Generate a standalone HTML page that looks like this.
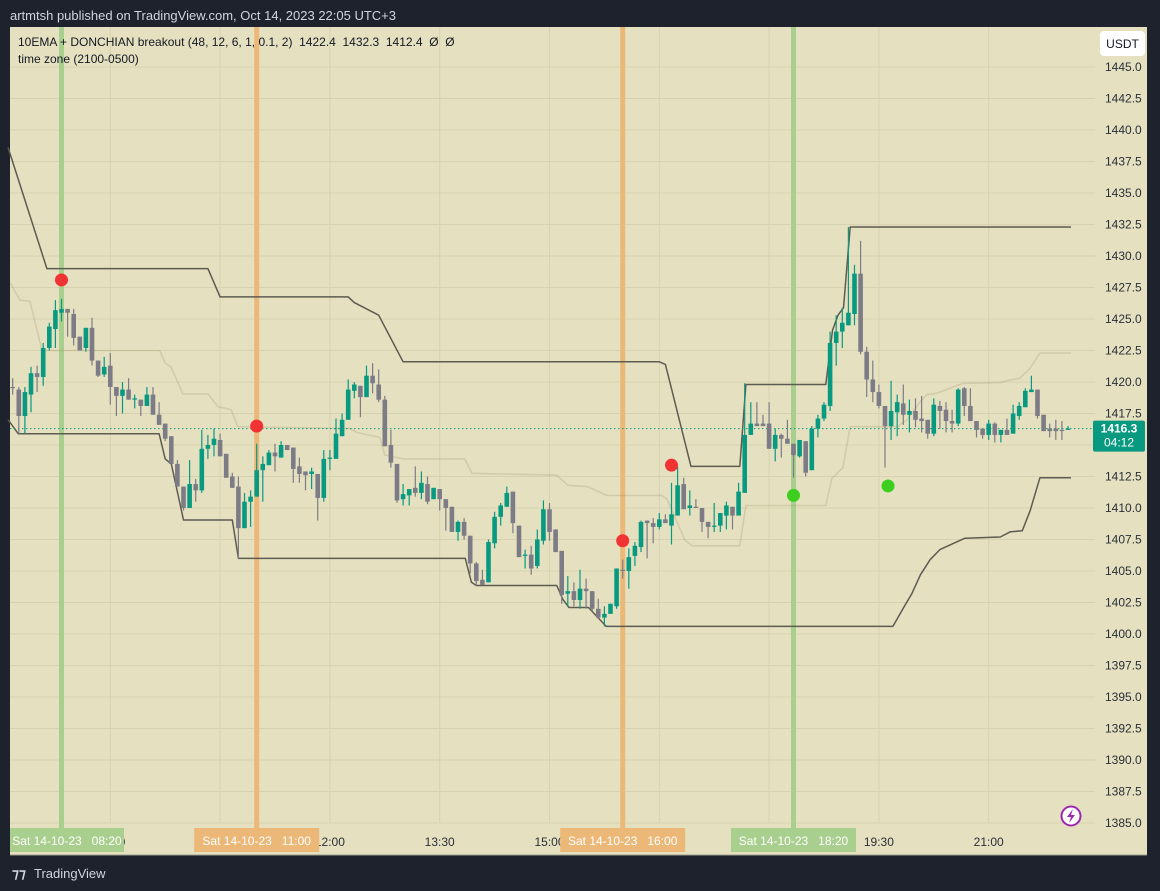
<!DOCTYPE html>
<html><head><meta charset="utf-8"><style>
html,body{margin:0;padding:0;background:#1e222d;width:1160px;height:891px;overflow:hidden;font-family:"Liberation Sans",sans-serif}
svg{display:block}
text{white-space:pre}
</style></head><body>
<svg id="chart" width="1160" height="891" viewBox="0 0 1160 891" xmlns="http://www.w3.org/2000/svg">
<rect x="0" y="0" width="1160" height="891" fill="#1e222d"/>
<text x="10" y="20" fill="#d1d4dc" font-size="13">artmtsh published on TradingView.com, Oct 14, 2023 22:05 UTC+3</text>
<rect x="10" y="27" width="1137" height="828" fill="#e5e1c0"/>
<line x1="10" y1="855" x2="1147" y2="855" stroke="#9a9a8a" stroke-width="1"/>
<g id="grid"></g>
<g id="bands"></g>
<g id="lines"></g>
<g id="candles"></g>
<g id="dots"></g>
<g id="yaxis"></g>
<g id="xaxis"></g>
<text x="18" y="46" fill="#131722" font-size="12" xml:space="preserve">10EMA + DONCHIAN breakout (48, 12, 6, 1, 0.1, 2)  1422.4  1432.3  1412.4  Ø  Ø</text>
<text x="18" y="63" fill="#131722" font-size="12">time zone (2100-0500)</text>
<rect x="1100" y="31" width="45" height="25" rx="4" fill="#ffffff"/>
<text x="1122.5" y="48" fill="#131722" font-size="12" text-anchor="middle">USDT</text>
<g><circle cx="1071" cy="816" r="9.5" fill="#fff" stroke="#9c27b0" stroke-width="2"/><path d="M1073 809 L1067 817 L1071 817 L1069 823 L1075 815 L1071 815 Z" fill="#9c27b0"/></g>
<g><text x="12" y="878" fill="#d1d4dc" font-size="14" font-weight="bold">⁊⁊</text><text x="34" y="878" fill="#d1d4dc" font-size="13">TradingView</text></g>
</svg>
<script>
const opens=[1419.6,1419.4,1417.3,1419.0,1420.7,1420.4,1422.7,1424.2,1425.5,1425.8,1425.4,1423.6,1422.7,1424.3,1421.7,1420.6,1421.3,1419.6,1418.9,1419.4,1418.6,1418.6,1418.1,1419.0,1417.4,1416.7,1415.7,1413.5,1411.7,1410.0,1411.9,1411.4,1414.7,1415.0,1415.4,1414.3,1412.5,1411.7,1408.4,1410.5,1410.9,1413.0,1413.4,1414.4,1414.0,1415.0,1414.8,1413.3,1412.9,1412.7,1412.7,1410.8,1413.9,1413.9,1415.7,1417.0,1419.3,1419.7,1418.8,1420.5,1419.8,1418.6,1415.0,1413.5,1410.7,1411.0,1411.6,1411.2,1411.9,1410.7,1411.5,1410.7,1410.1,1408.1,1408.9,1407.8,1405.6,1404.3,1404.1,1407.2,1409.3,1410.1,1411.3,1408.6,1406.2,1406.3,1405.4,1407.4,1409.9,1408.3,1406.6,1403.2,1403.4,1402.7,1403.6,1403.4,1402.0,1401.3,1401.6,1402.2,1405.1,1405.0,1406.2,1406.9,1409.0,1408.8,1408.5,1409.1,1408.6,1409.4,1411.9,1410.0,1410.1,1410.0,1408.9,1408.5,1408.6,1409.4,1410.1,1409.4,1411.2,1415.8,1416.7,1416.7,1416.7,1414.7,1415.8,1415.5,1415.1,1414.1,1415.3,1413.0,1416.3,1417.1,1418.1,1423.1,1424.0,1424.5,1425.4,1428.6,1422.4,1420.2,1419.2,1418.1,1416.5,1417.6,1418.3,1417.4,1417.7,1417.1,1417.0,1415.9,1418.1,1417.8,1416.9,1416.7,1419.5,1418.1,1416.9,1416.3,1415.8,1416.7,1415.8,1416.2,1415.9,1417.3,1418.0,1419.2,1419.4,1417.4,1416.3,1416.3,1416.2,1416.2];
const highs=[1420.3,1419.6,1419.6,1421.2,1421.3,1423.1,1424.7,1426.5,1426.6,1425.8,1425.8,1423.6,1424.3,1425.1,1421.7,1422.0,1422.3,1419.6,1420.0,1420.3,1419.0,1418.6,1419.6,1419.6,1418.4,1416.7,1415.7,1413.8,1411.7,1413.8,1412.3,1416.2,1415.8,1416.3,1415.9,1414.3,1412.8,1412.5,1411.2,1411.4,1415.1,1414.1,1414.6,1415.1,1415.3,1415.0,1414.8,1414.0,1412.9,1413.2,1412.7,1414.6,1414.6,1417.1,1417.5,1420.2,1420.0,1419.7,1421.3,1421.5,1421.0,1418.9,1416.2,1413.5,1411.9,1411.5,1413.3,1412.9,1412.5,1411.6,1411.5,1410.7,1410.1,1409.0,1409.2,1407.8,1405.7,1405.1,1407.5,1409.7,1410.4,1411.7,1411.3,1408.6,1406.7,1407.0,1408.3,1410.6,1410.4,1408.3,1406.6,1404.6,1404.1,1405.1,1404.4,1403.4,1402.8,1402.2,1402.4,1405.2,1405.9,1406.8,1407.3,1409.0,1409.0,1409.2,1409.6,1409.5,1412.0,1413.3,1412.4,1411.4,1410.7,1410.0,1408.9,1410.4,1409.6,1410.5,1410.1,1412.0,1419.9,1418.4,1418.4,1417.4,1418.4,1416.3,1415.9,1417.0,1415.1,1415.4,1415.3,1416.5,1417.4,1418.4,1424.0,1425.3,1425.9,1432.3,1429.3,1431.2,1422.8,1421.7,1419.8,1418.1,1420.1,1419.0,1419.8,1418.6,1418.7,1418.9,1417.0,1418.7,1418.5,1418.4,1417.8,1419.5,1419.6,1419.5,1416.9,1416.3,1417.0,1416.8,1416.2,1417.1,1418.2,1418.4,1419.5,1420.5,1419.4,1417.4,1416.7,1417.0,1416.9,1416.5];
const lows=[1419.0,1415.9,1415.9,1417.6,1419.2,1419.7,1422.5,1422.7,1424.8,1423.6,1422.9,1422.5,1422.4,1421.3,1420.4,1420.4,1418.2,1417.3,1417.5,1418.6,1417.9,1417.3,1418.1,1417.4,1416.6,1415.3,1413.5,1411.7,1409.8,1410.0,1410.5,1411.2,1413.9,1414.1,1414.1,1412.4,1411.6,1406.0,1408.4,1408.5,1410.9,1410.5,1413.4,1412.9,1414.0,1414.6,1412.0,1412.0,1411.4,1411.5,1409.0,1410.5,1413.0,1413.9,1415.7,1417.0,1418.7,1417.2,1418.8,1419.1,1418.4,1414.9,1413.2,1410.4,1410.2,1410.2,1410.9,1410.7,1410.3,1410.7,1409.8,1408.2,1408.1,1407.4,1407.5,1404.8,1403.8,1403.9,1404.1,1406.8,1408.6,1410.1,1408.0,1406.1,1405.2,1404.7,1405.2,1407.1,1407.4,1406.5,1402.4,1402.2,1402.2,1402.0,1402.0,1401.8,1401.2,1400.6,1401.6,1402.0,1404.4,1403.6,1405.4,1406.5,1406.0,1407.2,1408.3,1408.8,1407.1,1409.4,1409.9,1409.4,1410.0,1408.1,1407.6,1408.1,1408.1,1408.3,1408.3,1409.4,1411.2,1415.8,1416.5,1416.5,1414.7,1413.7,1414.0,1415.1,1412.4,1414.0,1412.5,1413.0,1415.6,1416.9,1417.7,1421.3,1422.7,1424.5,1424.5,1422.2,1418.8,1418.4,1417.9,1413.2,1415.4,1415.7,1416.6,1416.0,1416.4,1416.0,1415.5,1415.7,1416.3,1416.0,1416.0,1416.5,1417.3,1416.9,1415.6,1415.5,1415.4,1415.2,1415.2,1415.8,1415.9,1417.0,1418.0,1419.2,1417.1,1416.1,1415.6,1415.4,1415.4,1416.2];
const closes=[1419.6,1417.3,1419.2,1420.7,1420.4,1422.7,1424.4,1425.7,1425.8,1425.5,1423.5,1422.5,1424.3,1421.7,1420.5,1421.2,1419.6,1418.9,1419.4,1418.6,1418.7,1418.1,1419.0,1417.4,1416.6,1415.5,1413.5,1411.7,1410.0,1411.9,1411.4,1414.7,1415.0,1415.5,1414.1,1412.4,1411.6,1408.4,1410.5,1410.9,1413.0,1413.5,1414.4,1414.1,1415.0,1414.6,1413.1,1412.7,1412.6,1412.9,1410.8,1413.9,1414.0,1415.9,1417.0,1419.4,1419.8,1418.8,1420.5,1419.9,1418.6,1414.9,1413.6,1410.6,1411.1,1411.5,1411.2,1412.0,1410.5,1411.6,1410.7,1410.0,1408.1,1408.9,1407.8,1405.6,1404.2,1403.9,1407.3,1409.3,1410.2,1411.2,1408.8,1406.1,1406.3,1405.2,1407.5,1409.9,1408.1,1406.5,1403.1,1403.4,1402.7,1403.6,1403.4,1402.0,1401.3,1401.6,1402.4,1405.2,1405.0,1406.1,1407.0,1408.9,1408.8,1408.5,1409.1,1408.8,1409.5,1411.8,1409.9,1410.2,1410.0,1408.9,1408.5,1408.6,1409.6,1410.2,1409.4,1411.3,1415.8,1416.7,1416.5,1416.5,1414.7,1415.8,1415.5,1415.1,1414.2,1415.4,1412.8,1416.3,1417.1,1418.2,1423.1,1424.0,1424.7,1425.5,1428.6,1422.4,1420.2,1419.2,1418.1,1416.5,1417.7,1418.4,1417.4,1417.7,1417.0,1416.9,1415.9,1418.2,1417.7,1416.9,1416.7,1419.4,1418.1,1416.9,1416.2,1415.8,1416.7,1415.8,1416.2,1415.8,1417.5,1418.1,1419.3,1419.4,1417.3,1416.1,1416.1,1416.1,1416.2,1416.3];
const upperIdx=[-0.75,5.6,32,34,55,56,60,64,106,107,111.2,119.2,120.2,133.3,134.4,135.3,136.2,137.3,173.5];
const upperVal=[1438.6,1429.0,1429.0,1426.75,1426.75,1426.3,1425.3,1421.6,1421.6,1421.4,1413.3,1413.3,1419.8,1419.8,1424.1,1425.3,1425.9,1432.3,1432.3];
const lowerIdx=[-0.75,0.9,24,25,26,28,36,37,74.2,75.2,76,89.2,90.2,91.2,94.4,97.3,144.3,146.3,147.4,148.8,150.4,152,156.1,161.9,163.5,165.5,166.8,168.4,173.5];
const lowerVal=[1417.0,1415.9,1415.9,1413.9,1413.5,1409.05,1409.05,1406.0,1406.0,1404.1,1403.85,1403.85,1402.75,1402.1,1402.1,1400.6,1400.6,1402.3,1403.2,1404.7,1405.9,1406.7,1407.6,1407.7,1408.1,1408.2,1409.8,1412.4,1412.4];
const midIdx=[-0.44,1.2,2.84,4.8,24.1,25,25.95,27.9,32,33.65,35.8,36.9,55.3,56.4,60.2,61,64,74.1,75.3,89.2,91,94.2,97.4,106.4,107.3,110.2,111.4,119.2,120.2,133.3,134.3,136.1,137.3,145,146.6,148.7,149.9,151.5,155.8,161.9,163,165.1,166.8,168.4,173.5];
const midVal=[1427.9,1426.5,1426.4,1422.5,1422.5,1421.5,1421.2,1419.05,1419.05,1418.05,1417.8,1416.45,1416.3,1416.0,1415.6,1414.2,1413.9,1413.9,1412.75,1412.6,1411.8,1411.7,1411.0,1411.0,1410.7,1407.45,1407.0,1407.0,1410.2,1410.2,1412.35,1413.2,1416.45,1416.45,1417.0,1418.4,1419.0,1419.1,1419.9,1419.95,1420.1,1420.3,1421.1,1422.3,1422.3];
const sellIdx=[8,40,100,108];
const sellVal=[1428.1,1416.5,1407.4,1413.4];
const buyIdx=[128,143.5];
const buyVal=[1411.0,1411.75];
const bandIdx=[8,40,100,128];
const bandTimes=["08:20","11:00","16:00","18:20"];
const bandColors=["#a9cf8e","#ebb878","#ebb878","#a9cf8e"];
const timeIdx=[16,34,52,70,88,106,124,142,160];
const timeLabels=["09:00","10:30","12:00","13:30","15:00","16:30","18:00","19:30","21:00"];
const priceTicks=[1445,1442.5,1440,1437.5,1435,1432.5,1430,1427.5,1425,1422.5,1420,1417.5,1415,1412.5,1410,1407.5,1405,1402.5,1400,1397.5,1395,1392.5,1390,1387.5,1385];
const lastPrice=1416.3;

const NS="http://www.w3.org/2000/svg";
const X=i=>12.7+6.1*i;
const Y=p=>67+(1445-p)*12.6;
function mk(tag,attrs,parent){const e=document.createElementNS(NS,tag);for(const k in attrs)e.setAttribute(k,attrs[k]);parent.appendChild(e);return e;}
const grid=document.getElementById('grid'),bands=document.getElementById('bands'),lines=document.getElementById('lines'),cg=document.getElementById('candles'),dots=document.getElementById('dots'),ya=document.getElementById('yaxis'),xa=document.getElementById('xaxis');

priceTicks.forEach(p=>{
  const l=mk('line',{x1:10,x2:1095,y1:Y(p),y2:Y(p),stroke:'#d6d1ae','stroke-width':1},grid);
  
  
  const t=mk('text',{x:1105,y:Y(p)+4,'font-size':12,fill:'#2a2e39'},ya);
  t.textContent=p.toFixed(1);
  
  
});
timeIdx.forEach((ix,k)=>{
  const l=mk('line',{x1:X(ix),x2:X(ix),y1:27,y2:823,stroke:'#d6d1ae','stroke-width':1},grid);
  
  
  const t=mk('text',{x:X(ix),y:846,'font-size':12,fill:'#2a2e39','text-anchor':'middle'},xa);
  t.textContent=timeLabels[k];
  
  
});
bandIdx.forEach((ix,k)=>{
  const r=mk('rect',{x:X(ix)-2.5,y:27,width:5,height:801,fill:bandColors[k]},bands);
  
  
});
function poly(idx,val,stroke,w){
  const pts=idx.map((ix,k)=>X(ix).toFixed(1)+','+Y(val[k]).toFixed(1)).join(' ');
  return mk('polyline',{points:pts,fill:'none',stroke:stroke,'stroke-width':w,'stroke-linejoin':'round'},lines);
}
const m=poly(midIdx,midVal,'rgba(140,128,90,0.22)',1.6);


const u=poly(upperIdx,upperVal,'#5d5b52',1.5);


const lo=poly(lowerIdx,lowerVal,'#5d5b52',1.5);


const pl=mk('line',{x1:10,x2:1095,y1:Y(lastPrice),y2:Y(lastPrice),stroke:'#089981','stroke-width':1,'stroke-dasharray':'1.5,2.5'},lines);



opens.forEach((o,i)=>{
  const c=closes[i],col=c>o?'#089981':'#7c7b86',x=X(i);
  const w=mk('line',{x1:x,x2:x,y1:Y(highs[i]),y2:Y(lows[i]),stroke:col,'stroke-width':1.2},cg);
  
  
  const top=Y(Math.max(o,c)),bot=Y(Math.min(o,c));
  const b=mk('rect',{x:x-2.3,y:top,width:4.6,height:Math.max(1.2,bot-top),fill:col},cg);
  
  
});
sellIdx.forEach((ix,k)=>{
  const d=mk('circle',{cx:X(ix),cy:Y(sellVal[k]),r:6.5,fill:'#f23333'},dots);
  
  
});
buyIdx.forEach((ix,k)=>{
  const d=mk('circle',{cx:X(ix),cy:Y(buyVal[k]),r:6.5,fill:'#3ccf1f'},dots);
  
  
});
bandIdx.forEach((ix,k)=>{
  const cx=X(ix);let x0=cx-62.5,x1=cx+62.5;if(x0<10)x0=10;
  const r=mk('rect',{x:x0,y:828,width:x1-x0,height:24,fill:bandColors[k]},xa);
  
  
  const t=mk('text',{x:(x0+x1)/2,y:845,'font-size':12,fill:'#ffffff','text-anchor':'middle'},xa);
  t.setAttributeNS('http://www.w3.org/XML/1998/namespace','xml:space','preserve');
  t.textContent='Sat 14-10-23   '+bandTimes[k];
  
  
});
const pb=mk('rect',{x:1093,y:Y(lastPrice)-8,width:52,height:31,rx:2,fill:'#089981'},ya);


const pt=mk('text',{x:1119,y:Y(lastPrice)+4,'font-size':12,'font-weight':'bold',fill:'#fff','text-anchor':'middle'},ya);
pt.textContent=lastPrice.toFixed(1);


const ct=mk('text',{x:1119,y:Y(lastPrice)+18,'font-size':12,fill:'#fff','text-anchor':'middle'},ya);
ct.textContent='04:12';


</script>
</body></html>
